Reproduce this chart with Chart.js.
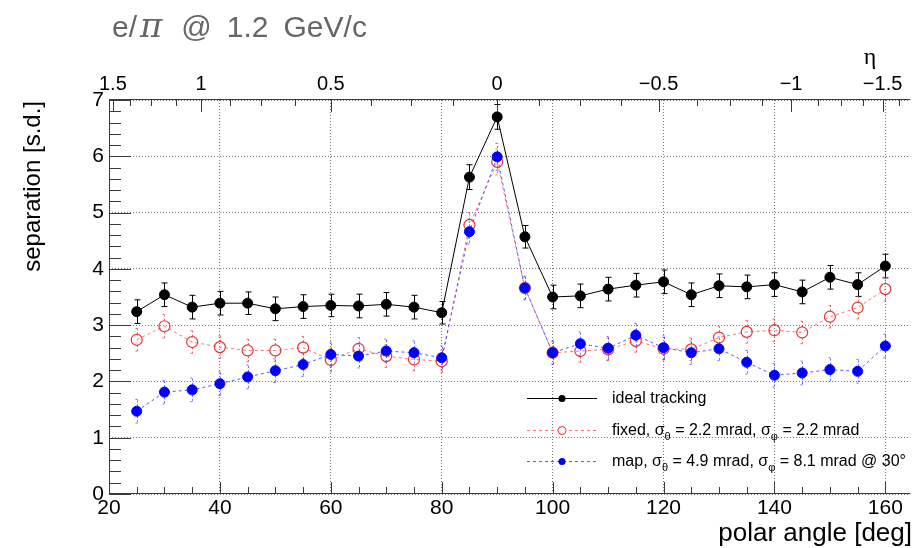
<!DOCTYPE html>
<html>
<head>
<meta charset="utf-8">
<script src="https://cdn.jsdelivr.net/npm/chart.js@4.4.0/dist/chart.umd.min.js"></script>
<style>
  html, body { margin: 0; padding: 0; background: #fff; }
  #wrap { width: 917px; height: 548px; position: relative; }
</style>
</head>
<body>
<div id="wrap"><canvas id="sepChart"></canvas></div>
<script>
// polar angle bins [deg]
const angles = [25, 30, 35, 40, 45, 50, 55, 60, 65, 70, 75, 80, 85, 90, 95,
  100, 105, 110, 115, 120, 125, 130, 135, 140, 145, 150, 155, 160];

// separation [s.d.] and errors
const ideal = [3.24, 3.54, 3.32, 3.39, 3.39, 3.29, 3.33, 3.35, 3.34, 3.37, 3.32, 3.22, 5.63, 6.70, 4.57,
  3.50, 3.52, 3.64, 3.71, 3.77, 3.54, 3.70, 3.68, 3.72, 3.59, 3.85, 3.72, 4.05];
const idealErr = [0.21, 0.21, 0.21, 0.21, 0.20, 0.21, 0.21, 0.20, 0.21, 0.21, 0.21, 0.20, 0.22, 0.22, 0.20,
  0.21, 0.21, 0.21, 0.21, 0.21, 0.21, 0.21, 0.21, 0.21, 0.21, 0.21, 0.21, 0.21];

const fixedSep = [2.74, 2.98, 2.70, 2.61, 2.55, 2.55, 2.60, 2.38, 2.58, 2.45, 2.39, 2.36, 4.78, 5.90, 3.66,
  2.51, 2.54, 2.57, 2.72, 2.58, 2.57, 2.78, 2.88, 2.91, 2.87, 3.15, 3.31, 3.64];
const fixedErr = [0.20, 0.21, 0.20, 0.20, 0.20, 0.20, 0.20, 0.21, 0.20, 0.20, 0.20, 0.20, 0.22, 0.23, 0.20,
  0.20, 0.20, 0.20, 0.20, 0.20, 0.20, 0.20, 0.20, 0.20, 0.20, 0.20, 0.20, 0.21];

const mapSep = [1.47, 1.81, 1.85, 1.96, 2.08, 2.19, 2.30, 2.48, 2.45, 2.54, 2.51, 2.42, 4.66, 5.99, 3.66,
  2.51, 2.67, 2.59, 2.82, 2.60, 2.51, 2.58, 2.34, 2.11, 2.15, 2.21, 2.18, 2.63];
const mapErr = [0.21, 0.21, 0.21, 0.21, 0.21, 0.21, 0.21, 0.22, 0.21, 0.21, 0.21, 0.21, 0.22, 0.24, 0.21,
  0.21, 0.21, 0.21, 0.21, 0.21, 0.21, 0.21, 0.21, 0.21, 0.21, 0.21, 0.21, 0.21];

// axis ticks
const xMajor = [20, 40, 60, 80, 100, 120, 140, 160];
const yMajor = [0, 1, 2, 3, 4, 5, 6, 7];
const etaLabels = ["1.5", "1", "0.5", "0", "\u22120.5", "\u22121", "\u22121.5"];
const etaAngles = [20.7, 36.6, 60.0, 90.0, 119.1, 143.0, 159.5];
const etaMinorAngles = [23.8, 27.5, 32.0, 41.8, 47.5, 53.6, 67.2, 74.5, 82.0,
  97.5, 105.0, 112.4, 126.0, 132.0, 137.8, 147.8, 152.0, 155.9, 162.5];

const legendText = [
  [["ideal tracking", false]],
  [["fixed, \u03c3", false], ["\u03b8", true], [" = 2.2 mrad, \u03c3", false], ["\u03c6", true], [" = 2.2 mrad", false]],
  [["map, \u03c3", false], ["\u03b8", true], [" = 4.9 mrad, \u03c3", false], ["\u03c6", true], [" = 8.1 mrad @ 30\u00b0", false]],
];

const toPoints = (arr) => angles.map((a, i) => ({ x: a, y: arr[i] }));
const errors = [idealErr, fixedErr, mapErr];

Chart.defaults.font.family = "'Liberation Sans', Arial, sans-serif";
Chart.defaults.color = "#000";

// error bars, axis frame with inward ticks, titles and legend (ROOT style)
const rootStyle = {
  id: "rootStyle",
  beforeDatasetsDraw(chart) {
    const ctx = chart.ctx;
    const ys = chart.scales.y;
    ctx.save();
    chart.data.datasets.forEach((ds, i) => {
      const meta = chart.getDatasetMeta(i);
      const err = errors[i];
      const r = ds.pointRadius;
      ctx.strokeStyle = ds.errColor;
      ctx.lineWidth = 1;
      ctx.setLineDash(ds.errDash);
      meta.data.forEach((pt, j) => {
        const x = Math.round(pt.x) + 0.5;
        const yHi = ys.getPixelForValue(ds.data[j].y + err[j]);
        const yLo = ys.getPixelForValue(ds.data[j].y - err[j]);
        ctx.beginPath();
        ctx.moveTo(x, pt.y - r);
        ctx.lineTo(x, yHi);
        ctx.moveTo(x, pt.y + r);
        ctx.lineTo(x, yLo);
        ctx.moveTo(x - ds.capW, yHi);
        ctx.lineTo(x + ds.capW, yHi);
        ctx.moveTo(x - ds.capW, yLo);
        ctx.lineTo(x + ds.capW, yLo);
        ctx.stroke();
      });
    });
    ctx.restore();
  },
  afterDraw(chart) {
    const ctx = chart.ctx;
    const xs = chart.scales.x, ys = chart.scales.y, ts = chart.scales.xTop;
    const { left, right, top, bottom } = chart.chartArea;
    ctx.save();
    ctx.strokeStyle = "#3a3a3a";
    ctx.lineWidth = 1;
    ctx.beginPath();
    ctx.moveTo(left + 0.5, top - 0.5);
    ctx.lineTo(left + 0.5, bottom);
    ctx.moveTo(left, bottom - 0.5);
    ctx.lineTo(right, bottom - 0.5);
    ctx.moveTo(left, top - 0.5);
    ctx.lineTo(right, top - 0.5);
    // bottom ticks
    for (let k = 0; k * 5 <= 140; k++) {
      const v = 20 + k * 5;
      const px = Math.round(xs.getPixelForValue(v)) + 0.5;
      const len = v % 20 === 0 ? 12 : 7;
      ctx.moveTo(px, bottom);
      ctx.lineTo(px, bottom - len);
    }
    // left ticks
    for (let k = 0; k <= 35; k++) {
      const py = Math.round(ys.getPixelForValue(k * 0.2)) + 0.5;
      const len = k % 5 === 0 ? 22 : 12;
      ctx.moveTo(left, py);
      ctx.lineTo(left + len, py);
    }
    // top (eta) ticks
    etaAngles.forEach((a) => {
      const px = Math.round(ts.getPixelForValue(a)) + 0.5;
      ctx.moveTo(px, top);
      ctx.lineTo(px, top + 12);
    });
    etaMinorAngles.forEach((a) => {
      const px = Math.round(ts.getPixelForValue(a)) + 0.5;
      ctx.moveTo(px, top);
      ctx.lineTo(px, top + 6);
    });
    ctx.stroke();

    // title, TLatex-like spacing
    ctx.fillStyle = "#666";
    ctx.textBaseline = "alphabetic";
    ctx.textAlign = "left";
    let tx = 112;
    ctx.font = "30px 'Liberation Sans'";
    ctx.fillText("e/", tx, 37);
    tx += ctx.measureText("e/").width + 3;
    ctx.font = "italic 34px 'DejaVu Serif'";
    ctx.fillText("\u03c0", tx, 37);
    tx += ctx.measureText("\u03c0").width + 19;
    ctx.font = "30px 'Liberation Sans'";
    ["@", "1.2", "GeV/c"].forEach((s) => {
      ctx.fillText(s, tx, 37);
      tx += ctx.measureText(s).width + 15;
    });

    // axis titles
    ctx.fillStyle = "#000";
    ctx.font = "26px 'Liberation Sans'";
    ctx.textAlign = "right";
    ctx.fillText("polar angle [deg]", 912, 541);
    ctx.save();
    ctx.translate(40, 101);
    ctx.rotate(-Math.PI / 2);
    ctx.font = "24px 'Liberation Sans'";
    ctx.fillText("separation [s.d.]", 0, 0);
    ctx.restore();
    ctx.textAlign = "center";
    ctx.font = "24px 'Liberation Serif'";
    ctx.fillText("\u03b7", 870, 64);

    // legend
    const rowsY = [398.5, 430.5, 461.5];
    chart.data.datasets.forEach((ds, i) => {
      const y = rowsY[i];
      ctx.strokeStyle = ds.borderColor;
      ctx.lineWidth = 1;
      ctx.setLineDash(ds.borderDash || []);
      ctx.beginPath();
      ctx.moveTo(527, y);
      ctx.lineTo(597, y);
      ctx.stroke();
      ctx.setLineDash([]);
      ctx.beginPath();
      ctx.arc(562, y, i === 1 ? 4 : 3.5, 0, Math.PI * 2);
      if (i === 1) {
        ctx.fillStyle = "#fff";
        ctx.fill();
        ctx.strokeStyle = ds.pointBorderColor;
        ctx.stroke();
      } else {
        ctx.fillStyle = ds.pointBackgroundColor;
        ctx.fill();
      }
      let lx = 612;
      ctx.fillStyle = "#000";
      ctx.textAlign = "left";
      ctx.textBaseline = "middle";
      legendText[i].forEach(([s, sub]) => {
        ctx.font = sub ? "11px 'Liberation Sans'" : "16px 'Liberation Sans'";
        ctx.fillText(s, lx, sub ? y + 6 : y);
        lx += ctx.measureText(s).width;
      });
    });
    ctx.restore();
  },
};

new Chart(document.getElementById("sepChart"), {
  type: "line",
  data: {
    datasets: [
      {
        label: "ideal tracking",
        data: toPoints(ideal),
        borderColor: "#000",
        borderWidth: 1,
        pointRadius: 5,
        pointHoverRadius: 5,
        pointBackgroundColor: "#000",
        pointBorderColor: "#000",
        errColor: "#000",
        errDash: [],
        capW: 3,
        order: 2,
      },
      {
        label: "fixed",
        data: toPoints(fixedSep),
        borderColor: "rgba(255, 80, 80, 0.8)",
        borderDash: [3, 3],
        borderWidth: 1,
        pointRadius: 5.5,
        pointHoverRadius: 5.5,
        pointBackgroundColor: "rgba(255,255,255,0)",
        pointBorderColor: "#e63232",
        pointBorderWidth: 1.2,
        errColor: "rgba(240, 60, 60, 0.8)",
        errDash: [2, 2],
        capW: 2,
        order: 1,
      },
      {
        label: "map",
        data: toPoints(mapSep),
        borderColor: "rgba(60, 60, 255, 0.85)",
        borderDash: [3, 3],
        borderWidth: 1,
        pointRadius: 5,
        pointHoverRadius: 5,
        pointBackgroundColor: "#0000ff",
        pointBorderColor: "#0000ff",
        errColor: "rgba(70, 70, 255, 0.8)",
        errDash: [2, 2],
        capW: 2,
        order: 0,
      },
    ],
  },
  options: {
    responsive: true,
    maintainAspectRatio: false,
    animation: false,
    devicePixelRatio: 1,
    layout: { padding: { left: 0, right: 1, top: 0, bottom: 0 } },
    plugins: { legend: { display: false }, tooltip: { enabled: false } },
    scales: {
      x: {
        type: "linear",
        position: "bottom",
        min: 20,
        max: 164.5,
        afterBuildTicks: (s) => { s.ticks = xMajor.map((v) => ({ value: v })); },
        afterFit: (s) => { s.height = 54; },
        grid: { color: "#777", lineWidth: 1, drawTicks: false },
        border: { display: false, dash: [1, 2] },
        ticks: { font: { size: 21 }, padding: 2, maxRotation: 0, autoSkip: false },
      },
      xTop: {
        type: "linear",
        position: "top",
        min: 20,
        max: 164.5,
        afterBuildTicks: (s) => { s.ticks = etaAngles.map((v) => ({ value: v })); },
        afterFit: (s) => { s.height = 100; },
        grid: { display: false, drawTicks: false },
        border: { display: false },
        ticks: {
          font: { size: 20 },
          padding: 4,
          maxRotation: 0,
          autoSkip: false,
          callback: (v, i) => etaLabels[i],
        },
      },
      y: {
        type: "linear",
        min: 0,
        max: 7,
        afterBuildTicks: (s) => { s.ticks = yMajor.map((v) => ({ value: v })); },
        afterFit: (s) => { s.width = 109; },
        grid: { color: "#777", lineWidth: 1, drawTicks: false },
        border: { display: false, dash: [1, 2] },
        ticks: { font: { size: 21 }, padding: 5 },
      },
    },
  },
  plugins: [rootStyle],
});
</script>
</body>
</html>
